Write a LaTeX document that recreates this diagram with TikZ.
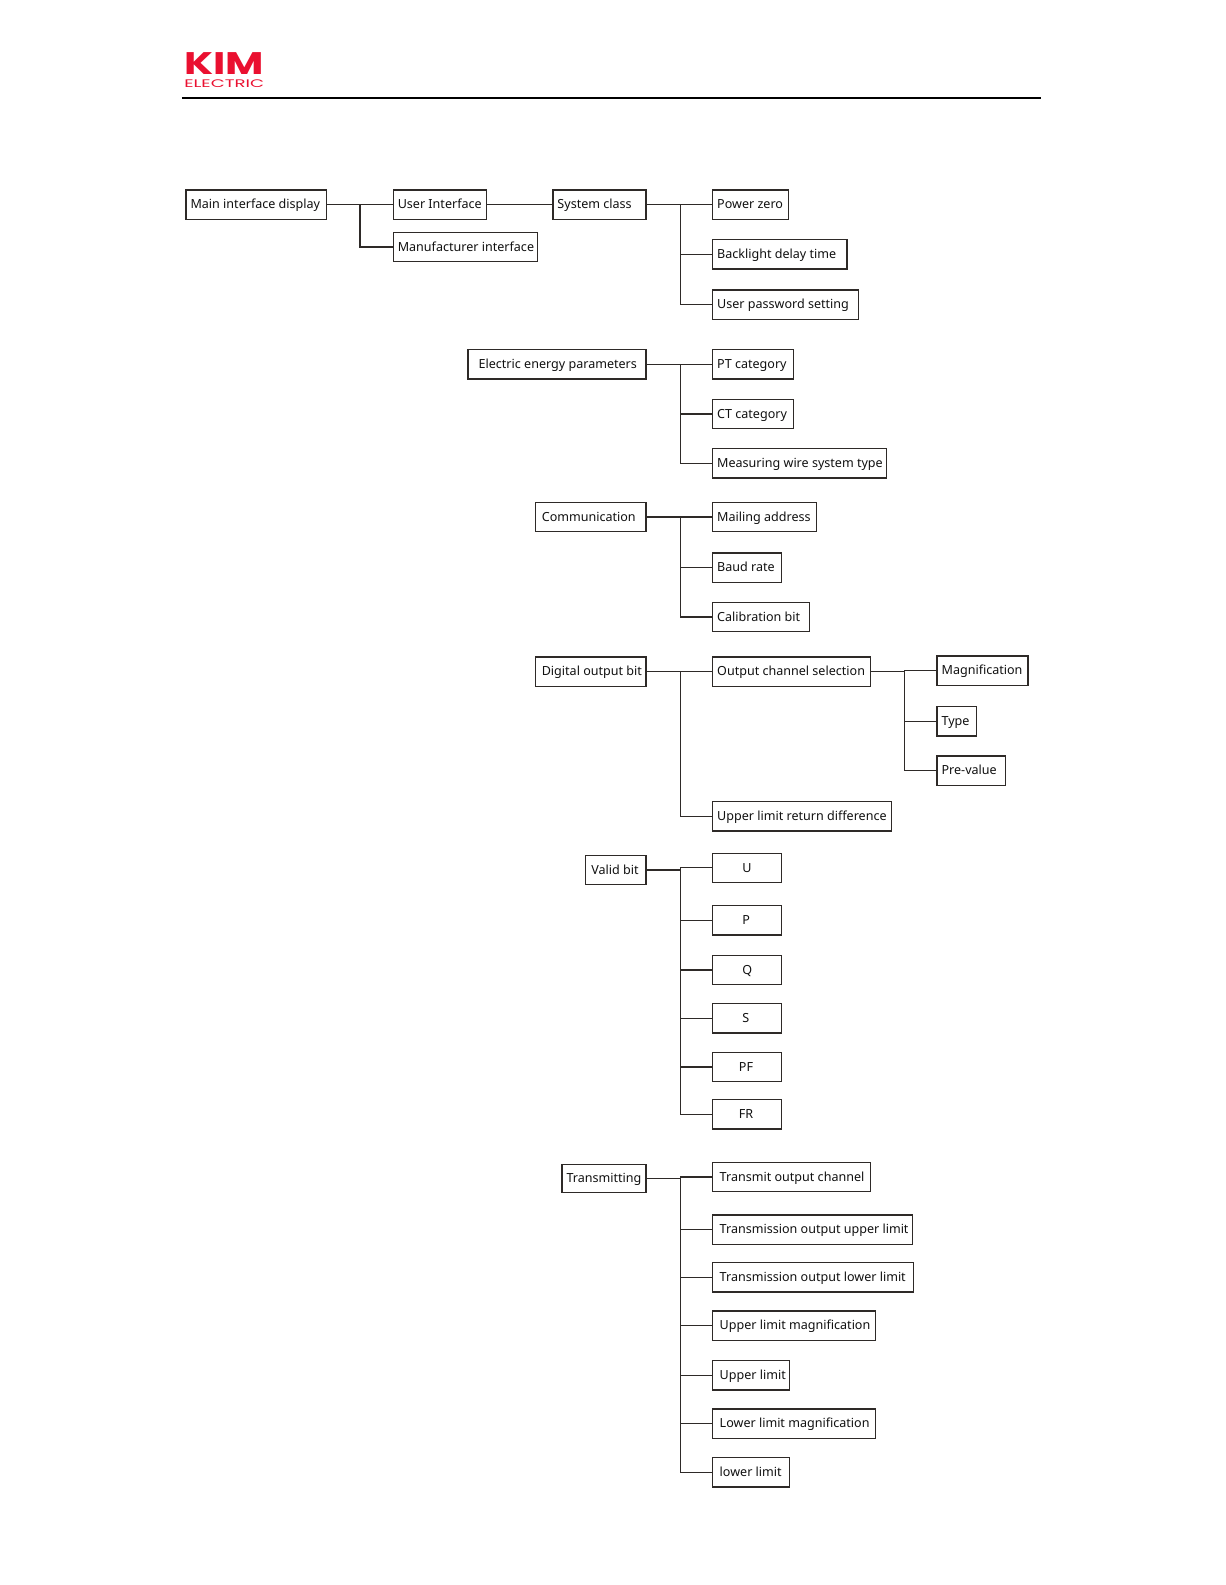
\documentclass[tikz,border=0pt]{standalone}
\usepackage{fontspec}
\usepackage{graphicx}
\setmainfont{Noto Sans}
\newfontfamily\logofont{Poppins}
\definecolor{inkline}{HTML}{2E2A28}
\definecolor{logored}{HTML}{EA1030}
\definecolor{inktext}{HTML}{111111}
\tikzset{
  boxed/.style={draw=inkline,line width=0.75pt,fill=white,anchor=north west,inner ysep=0pt,outer sep=0pt,
    text=inktext,font=\fontsize{7.45pt}{9pt}\selectfont,text height=6.4pt,text depth=1.4pt},
  conn/.style={draw=inkline,line width=0.8pt},
}
\newlength\bxw\newlength\bxh\newlength\bxp
\newcommand\bx[6][4.5]{%
  \pgfmathsetlength\bxw{(#5-#3)*0.6pt}%
  \pgfmathsetlength\bxh{(#6-#4)*0.6pt}%
  \pgfmathsetlength\bxp{#1*0.6pt}%
  \node[boxed,inner xsep=\bxp,minimum height=\bxh] (#2) at (#3,#4) {\makebox[\dimexpr\bxw-2\bxp\relax][l]{\BXT}};}
% \bxt[left inset]{name}{x1}{y1}{x2}{y2}{text}
\newcommand\bxt[7][4.5]{\def\BXT{#7}\bx[#1]{#2}{#3}{#4}{#5}{#6}}
% \tree{parent}{bus x}{children}
\newcommand\tree[3]{\foreach \kid in {#3}{\draw[conn] (#1.east) -- (#1.east -| #2,0) |- (\kid.west);}}
\begin{document}
\begin{tikzpicture}[x=0.6pt,y=-0.6pt]
\useasboundingbox (0,0) rectangle (1212,1568);
\fill[white] (0,0) rectangle (1212,1568);
% header
\node[anchor=north west,inner sep=0pt,text=logored,font=\logofont\bfseries] (logoa) at (182,52) {\resizebox{47.4pt}{13pt}{KIM}};
\node[anchor=north west,inner sep=0pt,text=logored,font=\logofont] (logob) at (182,78.5) {\resizebox{47.4pt}{4.6pt}{ELECTRIC}};
\coordinate (rulea) at (180,96.6);
\coordinate (ruleb) at (1030,96.6);
\draw[black,line width=1.2pt] (rulea) -- (ruleb);
% boxes
\bxt{main}{184}{188}{323}{217}{Main interface display}
\bxt{user}{389}{188}{481}{217}{User Interface}
\bxt{manu}{389}{230}{532}{259}{Manufacturer interface}
\bxt{sys}{547}{188}{639}{217}{System class}
\bxt{pz}{705}{188}{780}{217}{Power zero}
\bxt{bl}{705}{237}{838}{266}{Backlight delay time}
\bxt{pw}{705}{287}{849}{316}{User password setting}
\bxt[10.5]{ee}{463}{346}{639}{375}{Electric energy parameters}
\bxt{pt}{705}{346}{785}{375}{PT category}
\bxt{ct}{705}{395}{785}{424}{CT category}
\bxt{mw}{705}{444}{877}{473}{Measuring wire system type}
\bxt[6]{com}{530}{497}{639}{526}{Communication}
\bxt{ma}{705}{497}{808}{526}{Mailing address}
\bxt{baud}{705}{547}{773}{576}{Baud rate}
\bxt{cal}{705}{596}{801}{625}{Calibration bit}
\bxt[6]{dig}{530}{650}{639}{679}{Digital output bit}
\bxt{och}{705}{650}{861}{679}{Output channel selection}
\bxt{mag}{927}{649}{1017}{678}{Magnification}
\bxt{typ}{927}{699}{966}{728}{Type}
\bxt{pre}{927}{748}{995}{777}{Pre-value}
\bxt{ulr}{705}{793}{882}{822}{Upper limit return difference}
\bxt[6]{val}{579}{846}{639}{875}{Valid bit}
\bxt[29.5]{U}{705}{844}{773}{873}{U}
\bxt[29.5]{P}{705}{896}{773}{925}{P}
\bxt[29.5]{Q}{705}{945}{773}{974}{Q}
\bxt[29.5]{S}{705}{993}{773}{1022}{S}
\bxt[26]{PF}{705}{1041}{773}{1070}{PF}
\bxt[26]{FR}{705}{1088}{773}{1117}{FR}
\bxt{tra}{556}{1152}{639}{1180}{Transmitting}
\bxt[7]{toc}{705}{1150}{861}{1179}{Transmit output channel}
\bxt[7]{tou}{705}{1202}{903}{1231}{Transmission output upper limit}
\bxt[7]{tol}{705}{1249}{904}{1278}{Transmission output lower limit}
\bxt[7]{ulm}{705}{1297}{866}{1326}{Upper limit magnification}
\bxt[7]{ul}{705}{1346}{781}{1375}{Upper limit}
\bxt[7]{llm}{705}{1394}{866}{1423}{Lower limit magnification}
\bxt[7]{ll}{705}{1442}{781}{1471}{lower limit}
% connectors
\tree{main}{356}{user,manu}
\draw[conn] (user.east) -- (sys.west);
\tree{sys}{673}{pz,bl,pw}
\tree{ee}{673}{pt,ct,mw}
\tree{com}{673}{ma,baud,cal}
\tree{dig}{673}{och,ulr}
\tree{och}{895}{mag,typ,pre}
\tree{val}{673}{U,P,Q,S,PF,FR}
\tree{tra}{673}{toc,tou,tol,ulm,ul,llm,ll}
\end{tikzpicture}
\end{document}
